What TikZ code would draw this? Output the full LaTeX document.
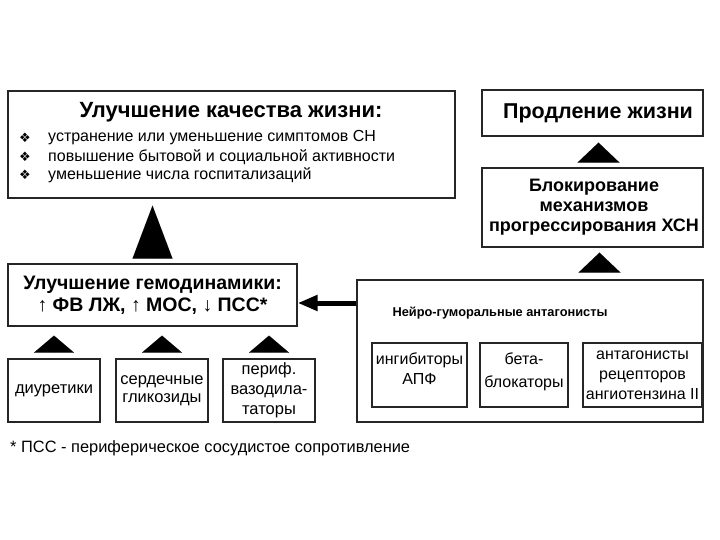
\documentclass[tikz,border=0pt]{standalone}
\usepackage{fontspec}
\setmainfont{Liberation Sans}
\newfontfamily\symfont{DejaVu Sans}
\usetikzlibrary{arrows.meta,positioning}

\tikzset{
  box/.style={draw=black!85,line width=1.3pt,inner sep=0pt,align=center},
  bigup/.style={-{Triangle[length=53pt 0 0,width=40pt 0 0]},line width=0.01pt},
  smallup/.style={-{Triangle[length=17pt 0 0,width=40pt 0 0]},line width=0.01pt},
  midup/.style={-{Triangle[length=20pt 0 0,width=42pt 0 0]},line width=0.01pt},
  push/.style={-{Triangle[length=20pt 0 0,width=15pt 0 0]},line width=5pt},
  bul/.style={font=\symfont\fontsize{13}{15}\selectfont},
  item/.style={anchor=west,inner sep=0pt,font=\fontsize{16}{19}\selectfont},
  drug/.style={box,minimum width=92pt,minimum height=63pt},
  inbox/.style={box,minimum height=64pt,font=\fontsize{16}{20}\selectfont}
}

\begin{document}
\begin{tikzpicture}[x=1pt,y=-1pt]
\useasboundingbox (0,0) rectangle (720,540);

% quality of life
\node[box,minimum width=447pt,minimum height=107pt] (quality) at (231.5,144.5) {};
\node[font=\fontsize{22}{25}\selectfont\bfseries] (qtitle) at (231,112) {Улучшение качества жизни:};
\node[bul] (b1) at (25,138) {❖};
\node[bul] (b2) at (25,157) {❖};
\node[bul] (b3) at (25,175) {❖};
\node[item] (q1) at (48,138) {устранение или уменьшение симптомов СН};
\node[item] (q2) at (48,157) {повышение бытовой и социальной активности};
\node[item] (q3) at (48,175) {уменьшение числа госпитализаций};

% hemodynamics
\node[box,minimum width=289pt,minimum height=62pt,
  font=\fontsize{19.5}{22}\selectfont\bfseries] (gem) at (152.5,295)
  {Улучшение гемодинамики:\\↑ ФВ ЛЖ, ↑ МОС, ↓ ПСС*};

\node[drug,font=\fontsize{16.5}{18}\selectfont] (diur) at (54,390.5) {диуретики};
\node[drug,font=\fontsize{16.5}{18}\selectfont] (glyc) at (162,390.5) {сердечные\\гликозиды};
\node[drug,font=\fontsize{16.5}{20}\selectfont] (vaso) at (269,390.5) {периф.\\вазодила-\\таторы};

\node[anchor=west,inner sep=0pt,font=\fontsize{16.4}{18}\selectfont] (note) at (10,448) {* ПСС - периферическое сосудистое сопротивление};

% life extension
\node[box,minimum width=221pt,minimum height=46pt] (life) at (592.5,113) {};
\node[font=\fontsize{21.5}{24}\selectfont\bfseries] (ltext) at (598,113) {Продление жизни};
\node[box,minimum width=221pt,minimum height=79pt] (block) at (592.5,207.5) {};
\node[align=center,font=\fontsize{18}{20}\selectfont\bfseries] (btext) at (594,207)
  {Блокирование\\механизмов\\прогрессирования ХСН};

% neurohumoral
\node[box,minimum width=346pt,minimum height=142pt] (neuro) at (530,351) {};
\node[font=\fontsize{12.8}{15}\selectfont\bfseries] (ntitle) at (500,313) {Нейро-гуморальные антагонисты};
\node[inbox,minimum width=95pt,text depth=13pt] (ace) at (419.5,375) {ингибиторы\\АПФ};
\node[inbox,minimum width=88pt,text depth=10pt,font=\fontsize{16}{23}\selectfont] (beta) at (524,375) {бета-\\блокаторы};
\node[inbox,minimum width=119pt] (arb) at (642.5,375) {антагонисты\\рецепторов\\ангиотензина II};

% connectors
\coordinate (t1) at ([xshift=6pt]life.south);
\coordinate (t2) at ([xshift=7pt]block.south);
\coordinate (hy) at ([yshift=-8pt]gem.east);
\draw[bigup,shorten <=6pt,shorten >=7pt] (gem.north) -- (gem.north |- quality.south);
\draw[smallup,shorten <=7pt,shorten >=9pt] (diur.north) -- (diur.north |- gem.south);
\draw[smallup,shorten <=7pt,shorten >=9pt] (glyc.north) -- (glyc.north |- gem.south);
\draw[smallup,shorten <=7pt,shorten >=9pt] (vaso.north) -- (vaso.north |- gem.south);
\draw[midup,shorten <=6pt,shorten >=6pt] (t1 |- block.north) -- (t1);
\draw[midup,shorten <=7pt,shorten >=5pt] (t2 |- neuro.north) -- (t2);
\draw[push] (neuro.west |- hy) -- (hy);
\end{tikzpicture}
\end{document}
